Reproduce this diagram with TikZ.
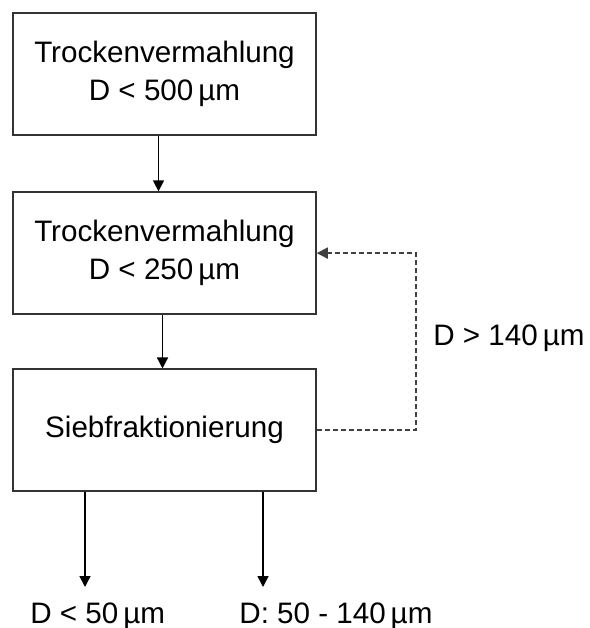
\documentclass[tikz,border=0pt]{standalone}
\usepackage{fontspec}
\setmainfont{Liberation Sans}
\usetikzlibrary{positioning,calc,arrows.meta}

\begin{document}
\begin{tikzpicture}[x=0.5pt, y=-0.5pt,
    stepbox/.style={draw=black!80, line width=0.75pt, minimum width=151.5pt, minimum height=61pt, align=center, inner sep=0pt},
    flow/.style={-{Triangle[length=5.5pt,width=5.5pt]}, line width=0.75pt},
    back/.style={flow, dash pattern=on 2.5pt off 1.5pt, draw=black!75}]
    \useasboundingbox (0,0) rectangle (590,628);
    \fontsize{14.8}{19.2}\selectfont

    % Mahlstufen
    \node [stepbox] (mill1) at (164.5, 74) {Trockenvermahlung\\D < 500\,µm};
    \node [stepbox, below=27.8pt of mill1] (mill2) {Trockenvermahlung\\D < 250\,µm};
    \node [stepbox, below=26.8pt of mill2] (sieve) {Siebfraktionierung};
    \draw [flow] ([xshift=-3pt]mill1.south) -- ([xshift=-3pt]mill2.north);
    \draw [flow] ([xshift=-1pt]mill2.south) -- ([xshift=-1pt]sieve.north);

    % Rueckfuehrung
    \coordinate (ret) at (416, 0);
    \draw [back] (sieve.east) -- (sieve.east -| ret) |- (mill2.east);
    \node [anchor=base west, inner sep=0pt] (coarse) at (433, 345) {D > 140\,µm};

    % Fraktionen
    \coordinate (fineend) at (85, 587);
    \coordinate (midend) at (263, 587);
    \draw [flow] (sieve.south -| fineend) -- (fineend);
    \draw [flow] (sieve.south -| midend) -- (midend);
    \node [anchor=base west, inner sep=0pt] (fine) at (30, 623) {D < 50\,µm};
    \node [anchor=base west, inner sep=0pt] (mid) at (239, 623) {D: 50 - 140\,µm};
\end{tikzpicture}
\end{document}
